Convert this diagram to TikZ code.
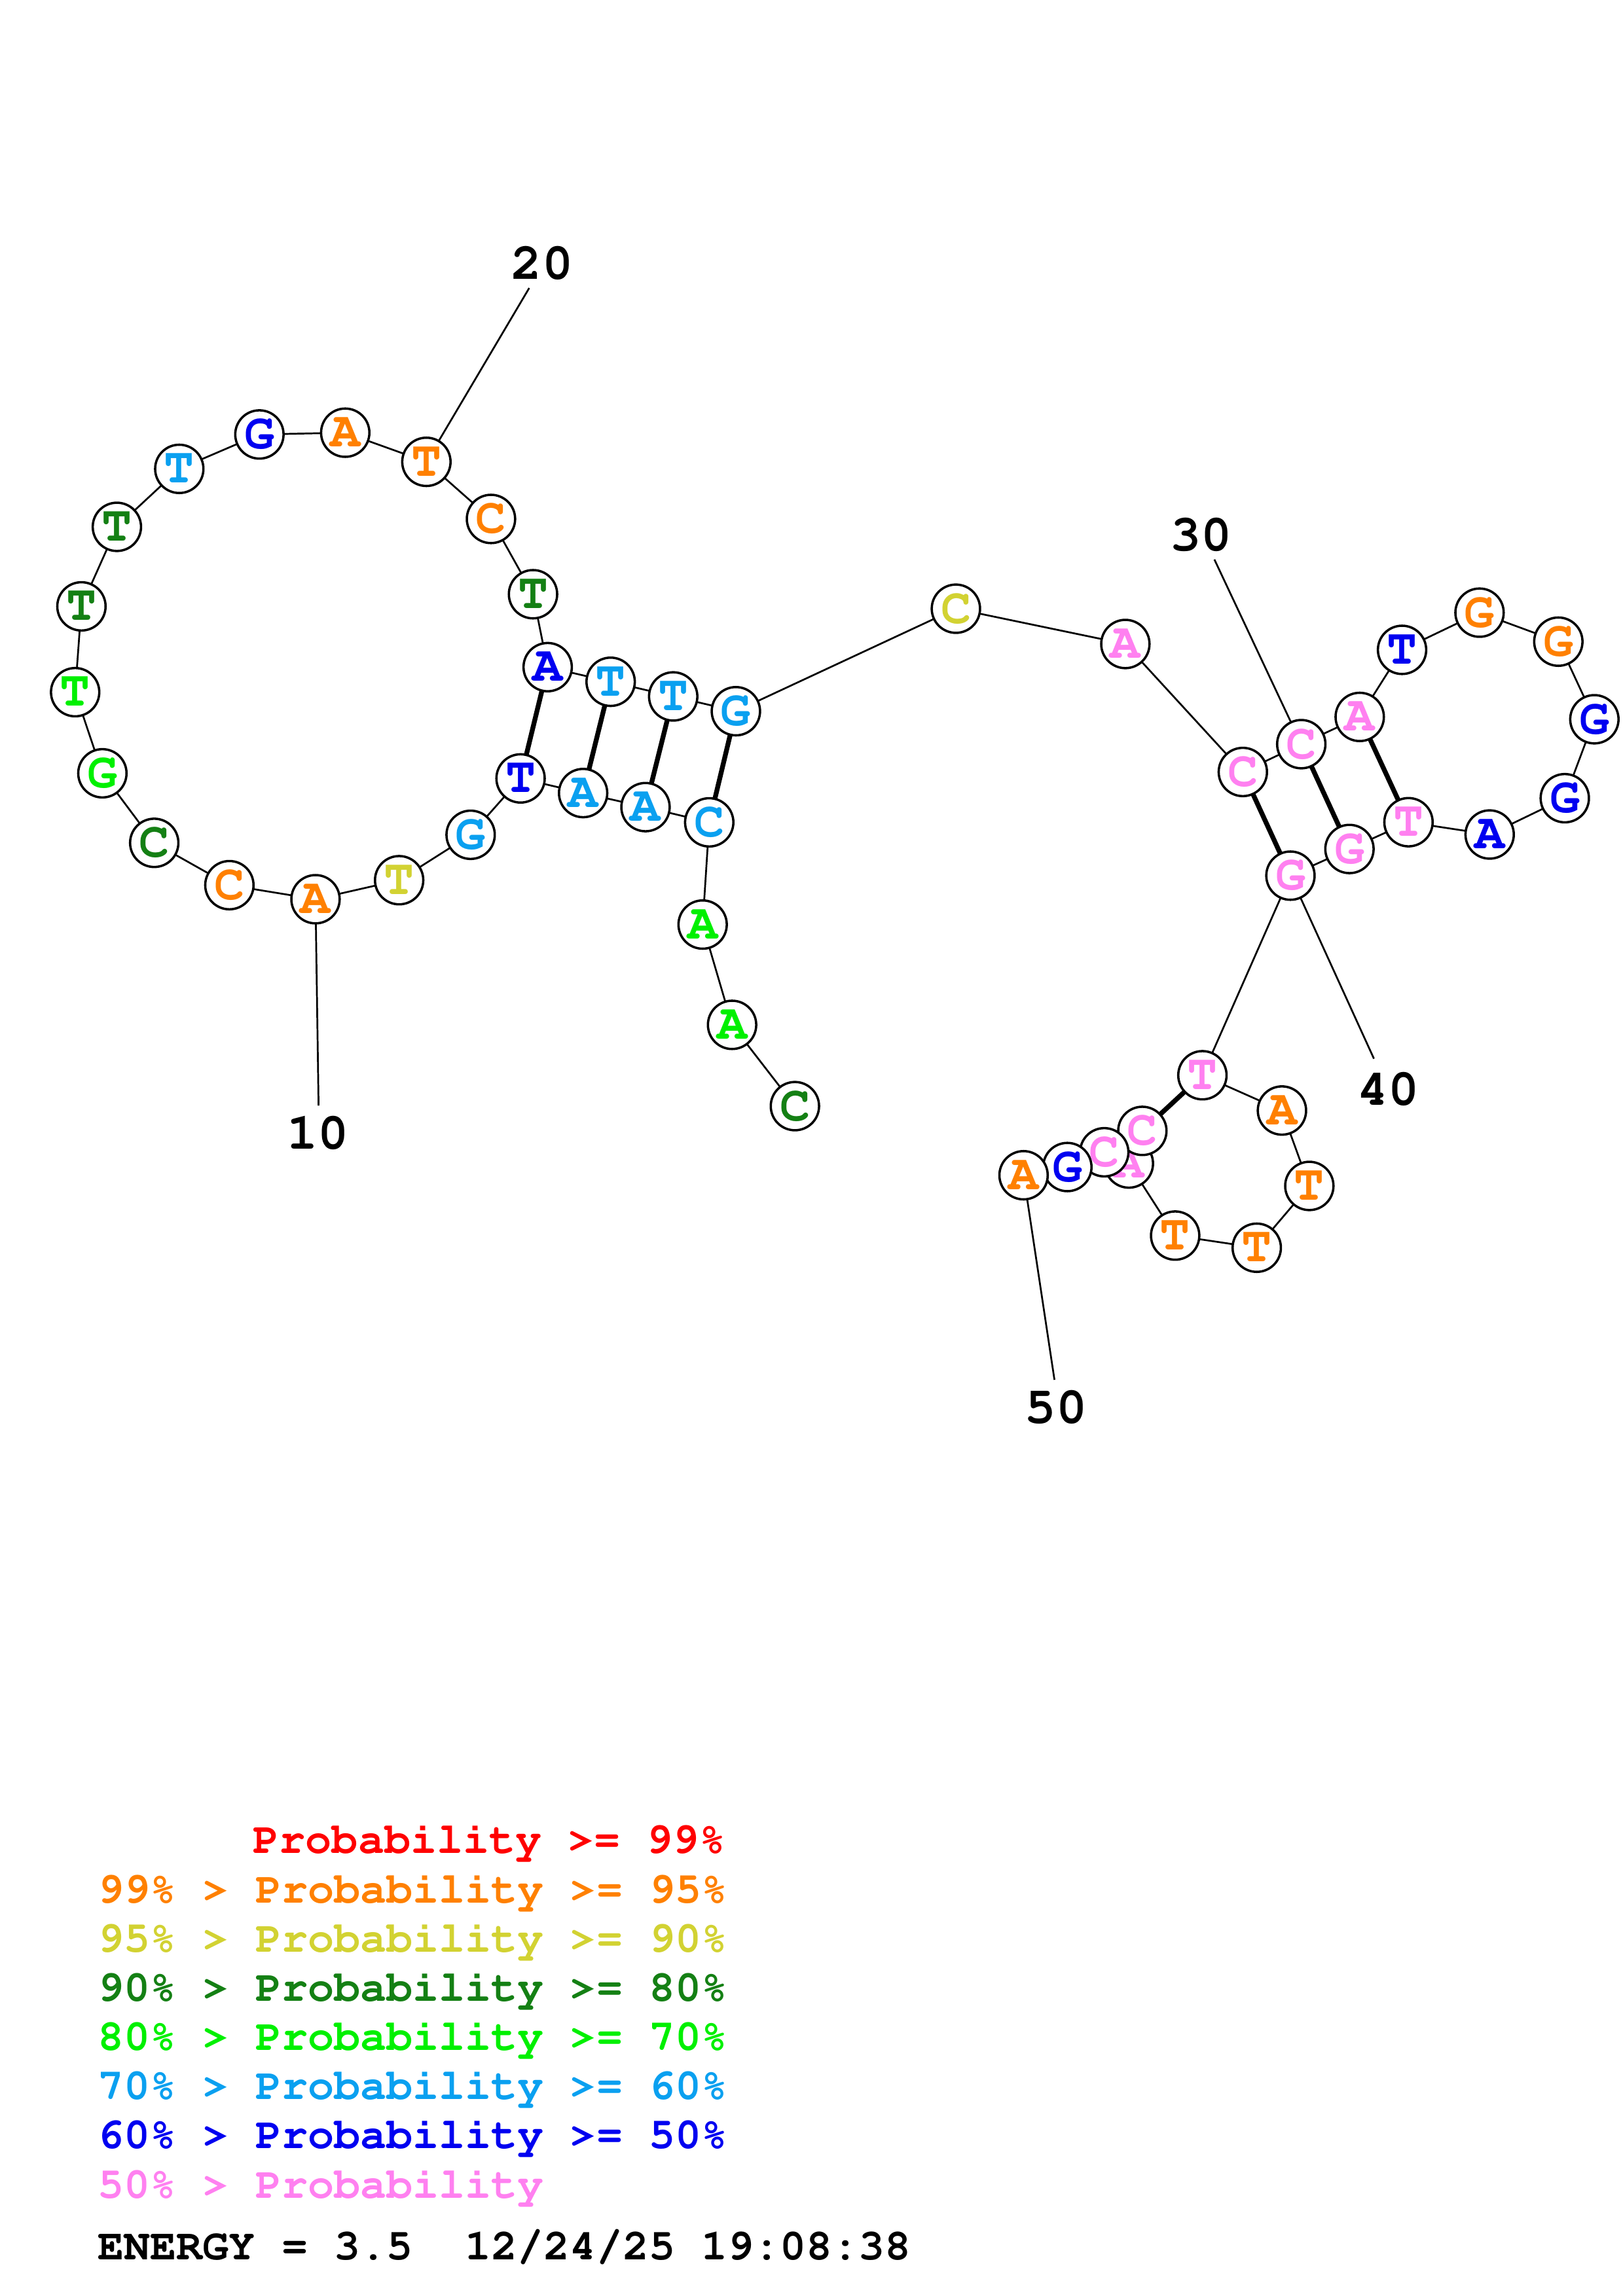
\documentclass[tikz,border=0pt]{standalone}
\usepackage[T1]{fontenc}
\usepackage{courier}
\usetikzlibrary{backgrounds}
\definecolor{prred}{HTML}{FF0000}
\definecolor{prorange}{HTML}{FF8000}
\definecolor{pryellow}{HTML}{D2D232}
\definecolor{prdkgreen}{HTML}{148014}
\definecolor{prgreen}{HTML}{00F000}
\definecolor{prsky}{HTML}{0AA0F0}
\definecolor{prblue}{HTML}{0000F0}
\definecolor{prpink}{HTML}{FF80F0}

\begin{document}
\begin{tikzpicture}[
  x=0.18953mm, y=-0.18953mm,
  nt/.style={circle, draw=black, fill=white, line width=0.3mm, minimum size=6.25mm, inner sep=0pt, font=\ttfamily\bfseries\fontsize{18.5}{18.5}\selectfont},
  p95/.style={nt, text=prorange},
  p90/.style={nt, text=pryellow},
  p80/.style={nt, text=prdkgreen},
  p70/.style={nt, text=prgreen},
  p60/.style={nt, text=prsky},
  p50/.style={nt, text=prblue},
  plo/.style={nt, text=prpink},
  backbone/.style={line width=0.23mm, draw=black},
  pairbond/.style={line width=0.62mm, draw=black},
  numlabel/.style={inner sep=0pt, font=\ttfamily\bfseries\fontsize{19}{19}\selectfont},
  legend/.style={anchor=base west, inner sep=0pt, font=\ttfamily\bfseries\fontsize{16.1}{16}\selectfont}
]
\useasboundingbox (0,0) rectangle (1108,1568);

% 5' tail and first stem
\node[p80] (n1) at (542.7,755.4) {C};
\node[p70] (n2) at (499.8,699.9) {A};
\node[p70] (n3) at (479.7,631.4) {A};
\node[p60] (n4) at (484.2,561.6) {C};
\node[p60] (n5) at (440.7,551.2) {A};
\node[p60] (n6) at (398.1,541.6) {A};
\node[p50] (n7) at (355.4,531.6) {T};
% big loop
\node[p60] (n8) at (321.3,570.1) {G};
\node[p90] (n9) at (272.5,601.1) {T};
\node[p95] (n10) at (215.4,614.1) {A};
\node[p95] (n11) at (156.6,604.5) {C};
\node[p80] (n12) at (105.3,575.6) {C};
\node[p70] (n13) at (69.9,528.1) {G};
\node[p70] (n14) at (51.3,472.7) {T};
\node[p80] (n15) at (55.6,414.1) {T};
\node[p80] (n16) at (79.8,359.8) {T};
\node[p60] (n17) at (122.4,320.2) {T};
\node[p50] (n18) at (177.1,296.7) {G};
\node[p95] (n19) at (235.7,295.5) {A};
\node[p95] (n20) at (291.1,315.4) {T};
\node[p95] (n21) at (335.2,354.4) {C};
\node[p80] (n22) at (363.9,405.8) {T};
\node[p50] (n23) at (373.9,455.6) {A};
\node[p60] (n24) at (416.9,465.6) {T};
\node[p60] (n25) at (459.6,475.6) {T};
\node[p60] (n26) at (502.4,485.7) {G};
% linker
\node[p90] (n27) at (652.6,415.7) {C};
\node[plo] (n28) at (768.3,439.8) {A};
% right hairpin
\node[plo] (n29) at (848.5,527.2) {C};
\node[plo] (n30) at (888.4,508.2) {C};
\node[plo] (n31) at (928.3,489.6) {A};
\node[p50] (n32) at (957.2,443.8) {T};
\node[p95] (n33) at (1010.1,418.4) {G};
\node[p95] (n34) at (1063.9,438.2) {G};
\node[p50] (n35) at (1088.5,491.2) {G};
\node[p50] (n36) at (1068.3,545.1) {G};
\node[p50] (n37) at (1017.0,569.9) {A};
\node[plo] (n38) at (961.6,561.5) {T};
\node[plo] (n39) at (921.3,579.8) {G};
\node[plo] (n40) at (881.0,598.0) {G};
% lower loop and 3' end
\node[plo] (n41) at (820.9,734.3) {T};
\node[p95] (n42) at (875.2,758.4) {A};
\node[p95] (n43) at (893.9,809.9) {T};
\node[p95] (n44) at (858.0,852.1) {T};
\node[p95] (n45) at (802.3,843.8) {T};
\node[plo] (n46) at (770.7,794.6) {A};
\node[plo] (n47) at (779.9,772.3) {C};
\node[plo] (n48) at (753.9,786.9) {C};
\node[p50] (n49) at (728.7,797.0) {G};
\node[p95] (n50) at (698.8,802.6) {A};

% position numbers
\node[numlabel] (lab10) at (217,774) {10};
\node[numlabel] (lab20) at (370.1,179.7) {20};
\node[numlabel] (lab30) at (820,365.5) {30};
\node[numlabel] (lab40) at (948,744) {40};
\node[numlabel] (lab50) at (721,961) {50};
\coordinate (e10) at (217.5,755);
\coordinate (e20) at (361.3,196.7);
\coordinate (e30) at (829.1,382.1);
\coordinate (e40) at (938,723);
\coordinate (e50) at (719.9,942.3);

\begin{scope}[on background layer]
\draw[backbone] (n1.center)--(n2.center)--(n3.center)--(n4.center)--(n5.center)--(n6.center)--(n7.center)--(n8.center)--(n9.center)--(n10.center)
  --(n11.center)--(n12.center)--(n13.center)--(n14.center)--(n15.center)--(n16.center)--(n17.center)--(n18.center)--(n19.center)--(n20.center)
  --(n21.center)--(n22.center)--(n23.center)--(n24.center)--(n25.center)--(n26.center)--(n27.center)--(n28.center)--(n29.center)--(n30.center)
  --(n31.center)--(n32.center)--(n33.center)--(n34.center)--(n35.center)--(n36.center)--(n37.center)--(n38.center)--(n39.center)--(n40.center)
  --(n41.center)--(n42.center)--(n43.center)--(n44.center)--(n45.center)--(n46.center)--(n47.center)--(n48.center)--(n49.center)--(n50.center);
\draw[pairbond] (n23.center)--(n7.center);
\draw[pairbond] (n24.center)--(n6.center);
\draw[pairbond] (n25.center)--(n5.center);
\draw[pairbond] (n26.center)--(n4.center);
\draw[pairbond] (n29.center)--(n40.center);
\draw[pairbond] (n30.center)--(n39.center);
\draw[pairbond] (n31.center)--(n38.center);
\draw[pairbond] (n41.center)--(n47.center);
\draw[backbone] (n10.center)--(e10);
\draw[backbone] (n20.center)--(e20);
\draw[backbone] (n30.center)--(e30);
\draw[backbone] (n40.center)--(e40);
\draw[backbone] (n50.center)--(e50);
\end{scope}

% legend
\node[legend, text=prred] (leg1) at (172.5,1265.8) {Probability >= 99\%};
\node[legend, text=prorange] (leg2) at (66.5,1299.4) {99\% > Probability >= 95\%};
\node[legend, text=pryellow] (leg3) at (66.5,1333.0) {95\% > Probability >= 90\%};
\node[legend, text=prdkgreen] (leg4) at (66.5,1366.6) {90\% > Probability >= 80\%};
\node[legend, text=prgreen] (leg5) at (66.5,1400.2) {80\% > Probability >= 70\%};
\node[legend, text=prsky] (leg6) at (66.5,1433.8) {70\% > Probability >= 60\%};
\node[legend, text=prblue] (leg7) at (66.5,1467.4) {60\% > Probability >= 50\%};
\node[legend, text=prpink] (leg8) at (66.5,1501.0) {50\% > Probability};
\node[legend] (energy) at (66.5,1543.2) {ENERGY = 3.5\ \ 12/24/25 19:08:38};
\end{tikzpicture}
\end{document}
